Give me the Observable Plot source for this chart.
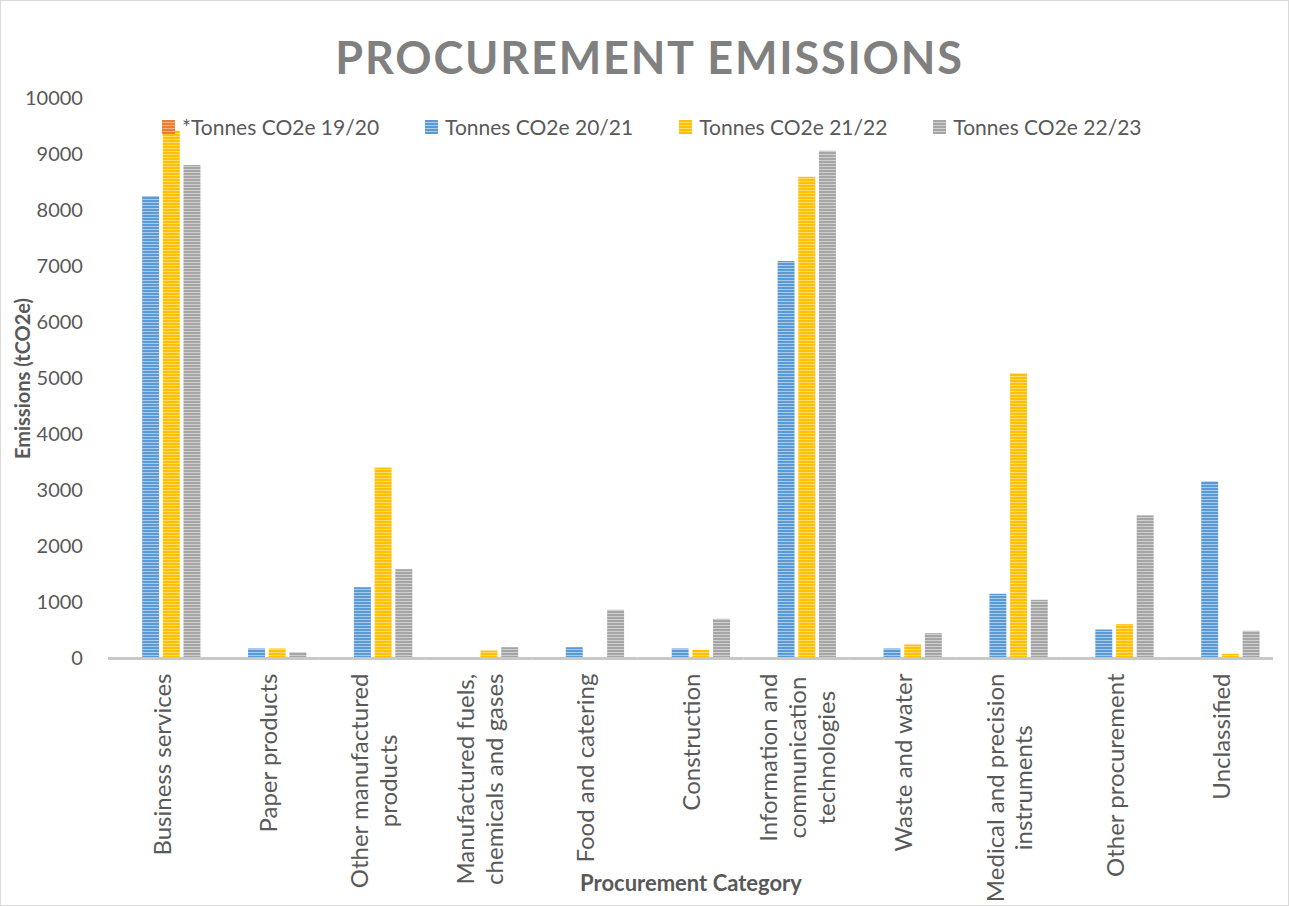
<!DOCTYPE html>
<html>
<head>
<meta charset="utf-8">
<script src="https://cdn.jsdelivr.net/npm/d3@7"></script>
<script src="https://cdn.jsdelivr.net/npm/@observablehq/plot@0.6"></script>
<style>
  html, body { margin: 0; padding: 0; background: #fff; }
  #wrap { position: relative; width: 1289px; height: 906px; overflow: hidden;
          outline: 1px solid #d9d9d9; outline-offset: -1px; font-family: Lato, "Open Sans", sans-serif; }
  #title { height: 80px; box-sizing: border-box; padding-top: 35px; padding-left: 10px;
           text-align: center; font-size: 45px; font-weight: 700; letter-spacing: 1.8px;
           color: #808080; line-height: 1; }
  #chart svg { display: block; }
  #legend { position: absolute; left: 162px; top: 114px; display: flex; gap: 46px;
            font-size: 21px; color: #595959; align-items: center; white-space: nowrap; }
  #legend .item { display: flex; align-items: center; }
  #legend .sw { width: 13px; height: 14px; margin-right: 7px; }
</style>
</head>
<body>
<div id="wrap">
  <div id="title">PROCUREMENT EMISSIONS</div>
  <div id="chart"></div>
  <div id="legend"></div>
</div>
<script>
const categories = [
  "Business services", "Paper products", "Other manufactured products",
  "Manufactured fuels, chemicals and gases", "Food and catering", "Construction",
  "Information and communication technologies", "Waste and water",
  "Medical and precision instruments", "Other procurement", "Unclassified"
];
const categoryLabels = [
  "Business services", "Paper products", "Other manufactured\nproducts",
  "Manufactured fuels,\nchemicals and gases", "Food and catering", "Construction",
  "Information and\ncommunication\ntechnologies", "Waste and water",
  "Medical and precision\ninstruments", "Other procurement", "Unclassified"
];
const seriesNames = ["*Tonnes CO2e 19/20", "Tonnes CO2e 20/21", "Tonnes CO2e 21/22", "Tonnes CO2e 22/23"];
const tonnes1920 = [null, null, null, null, null, null, null, null, null, null, null];
const tonnes2021 = [8250, 170, 1265, null, 193, 170, 7090, 170, 1147, 509, 3155];
const tonnes2122 = [9416, 170, 3400, 134, null, 147, 8593, 241, 5085, 604, 75];
const tonnes2223 = [8803, 104, 1587, 193, 861, 700, 9058, 443, 1040, 2547, 486];
const yTicks = [0, 1000, 2000, 3000, 4000, 5000, 6000, 7000, 8000, 9000, 10000];
const seriesColors = ["#ED7D31", "#5B9BD5", "#FFC000", "#A5A5A5"];
const stripeTints = ["#F4B183", "#A9CBEB", "#FFDA70", "#CFCFCF"];

const seriesValues = [tonnes1920, tonnes2021, tonnes2122, tonnes2223];
const rows = [];
categories.forEach((c, i) => {
  seriesNames.forEach((s, j) => rows.push({category: c, series: s, value: seriesValues[j][i]}));
});
const labelOf = new Map(categories.map((c, i) => [c, categoryLabels[i]]));

const W = 1289, H = 826, ML = 108, MR = 16, MT = 18, MB = 248;
const fxPadInner = 0.254, fxPadOuter = 0.127;
const step = (W - ML - MR) / (categories.length - fxPadInner + 2 * fxPadOuter);
const halfGap = fxPadOuter * step;

const chart = Plot.plot({
  width: W, height: H,
  marginLeft: ML, marginRight: MR, marginTop: MT, marginBottom: MB,
  style: {fontFamily: "Lato, 'Open Sans', sans-serif", color: "#595959", background: "transparent"},
  fx: {domain: categories, paddingInner: fxPadInner, paddingOuter: fxPadOuter, round: false, label: null},
  x: {domain: seriesNames, paddingInner: 0.18, paddingOuter: 0, round: false, axis: null},
  y: {domain: [0, 10000], label: null},
  color: {type: "ordinal", domain: seriesNames, range: seriesNames.map((d, i) => `url(#stripe${i})`)},
  marks: [
    Plot.barY(rows, {fx: "category", x: "series", y: "value", fill: "series"}),
    Plot.ruleY([0], {stroke: "#c8c8c8", strokeWidth: 3, insetLeft: -halfGap, insetRight: -halfGap}),
    Plot.axisY(yTicks, {tickSize: 0, tickPadding: 21, dx: -18, tickFormat: d3.format("d"), fontSize: 20, label: null}),
    Plot.axisY({ticks: [], label: "Emissions (tCO2e)", labelAnchor: "center", labelArrow: false,
                labelOffset: 106, fontSize: 20, fontWeight: "bold"}),
    Plot.axisFx({anchor: "bottom", tickRotate: -90, tickSize: 0, tickPadding: 15,
                 tickFormat: d => labelOf.get(d), fontSize: 24, lineHeight: 1.2, label: null}),
    Plot.axisFx({anchor: "bottom", ticks: [], label: "Procurement Category", labelAnchor: "center",
                 labelArrow: false, labelOffset: 232, fontSize: 22, fontWeight: "bold"})
  ]
});
document.getElementById("chart").append(chart);

// stripe patterns
const defs = d3.select(chart).insert("defs", ":first-child");
seriesNames.forEach((s, i) => {
  const p = defs.append("pattern").attr("id", `stripe${i}`).attr("patternUnits", "userSpaceOnUse")
    .attr("width", 6).attr("height", 3);
  p.append("rect").attr("width", 6).attr("height", 3).attr("fill", stripeTints[i]);
  p.append("rect").attr("width", 6).attr("height", 2).attr("fill", seriesColors[i]);
});

// center-align multi-line category labels (Excel style)
d3.select(chart).selectAll('g[aria-label="fx-axis tick label"] text').each(function() {
  const tspans = this.querySelectorAll("tspan");
  let L = 0;
  if (tspans.length) tspans.forEach(t => { L = Math.max(L, t.getComputedTextLength()); });
  else L = this.getComputedTextLength();
  this.setAttribute("text-anchor", "middle");
  this.setAttribute("transform", (this.getAttribute("transform") || "") + ` translate(${-L / 2},0)`);
});

// legend
const legend = d3.select("#legend");
seriesNames.forEach((s, i) => {
  const it = legend.append("div").attr("class", "item");
  it.append("div").attr("class", "sw")
    .style("background", `repeating-linear-gradient(180deg, ${seriesColors[i]} 0px, ${seriesColors[i]} 2px, ${stripeTints[i]} 2px, ${stripeTints[i]} 3px)`);
  it.append("span").text(s);
});
</script>
</body>
</html>
